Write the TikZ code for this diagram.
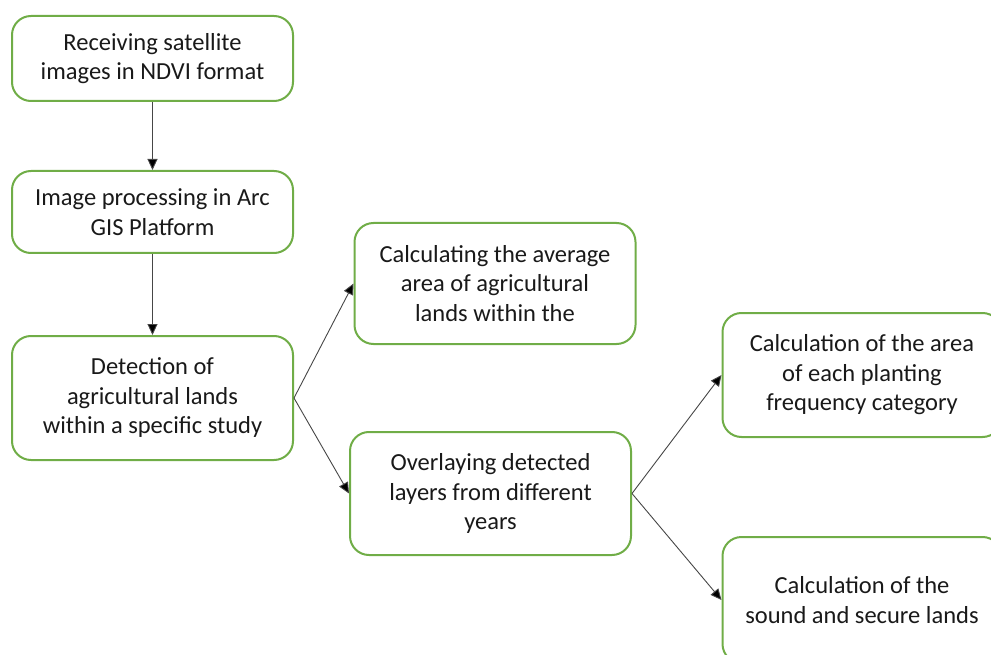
\documentclass[tikz,border=0pt]{standalone}
\usepackage{fontspec}
\setmainfont{Carlito}
\usepackage{tikz}
\usetikzlibrary{arrows.meta}
\usetikzlibrary{positioning}
\definecolor{boxgreen}{RGB}{112,173,71}
\definecolor{linegray}{RGB}{70,70,70}
\tikzset{box/.style = {draw=boxgreen, line width=2pt, rounded corners=19pt,
                       minimum width=281pt, align=center, text=black!90,
                       font=\fontsize{24.5}{29.5}\selectfont}}
\tikzset{link/.style = {draw=linegray, line width=0.9pt,
                        -{Triangle[length=11pt, width=10pt, fill=black]}}}

\begin{document}
\begin{tikzpicture}[x=1pt, y=-1pt]
      \useasboundingbox (0, 0) rectangle (991, 655);
      \clip (0, 0) rectangle (991, 655);

      \node (recv) at (152.5, 58.5) [box, minimum height=85pt] {Receiving satellite\\images in NDVI format};
      \node (proc) at (152.5, 212) [box, minimum height=82pt] {Image processing in Arc\\GIS Platform};
      \node (detect) at (152.5, 398) [box, minimum height=124pt] {Detection of\\agricultural lands\\within a specific study};

      \node (avg) at (495, 283.5) [box, minimum height=121pt] {Calculating the average\\area of agricultural\\lands within the};
      \node (overlay) at (490.5, 493.5) [box, minimum height=123pt] {Overlaying detected\\layers from different\\years};

      \node (freq) at (862, 375) [box, minimum height=124pt, minimum width=279pt] {Calculation of the area\\of each planting\\frequency category};
      \node (sound) at (862, 600) [box, minimum height=126pt, minimum width=279pt] {Calculation of the\\sound and secure lands};

      \draw [link] (recv) -- (proc);
      \draw [link] (proc) -- (detect);
      \draw [link] (detect.east) -- (avg.west);
      \draw [link] (detect.east) -- (overlay.west);
      \draw [link] (overlay.east) -- (freq.west);
      \draw [link] (overlay.east) -- (sound.west);
    \end{tikzpicture}
\end{document}
